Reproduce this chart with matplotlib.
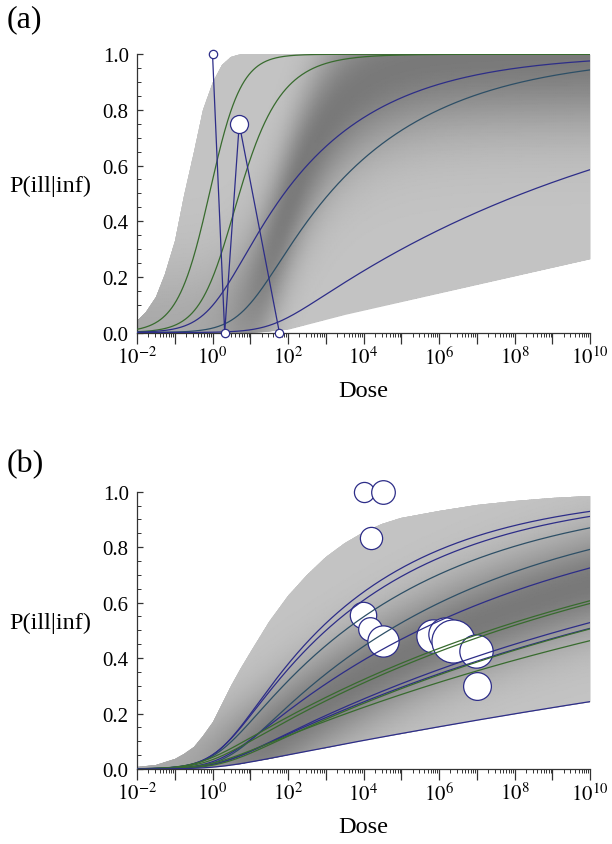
import numpy as np
import matplotlib.pyplot as plt
from matplotlib.ticker import LogLocator, FuncFormatter, MultipleLocator, NullFormatter

plt.rcParams['font.family'] = ['Liberation Serif', 'DejaVu Serif']
plt.rcParams['mathtext.fontset'] = 'stix'

BLUE = '#2d2d88'
GREEN = '#386b2e'
TEAL = '#2d4f66'

# dose-response curves  P(ill|inf) = 1 - (1 + eta*dose)^(-r)
a_r = [1.1, 0.55, 0.163, 0.1375, 0.0456]
a_eta = [1.06, 0.49, 0.87, 0.123, 0.024]
a_col = [GREEN, GREEN, BLUE, TEAL, BLUE]

b_r = [0.118, 0.1072, 0.09, 0.0714, 0.0574, 0.0394, 0.0389, 0.0333, 0.0312, 0.0314, 0.0268, 0.01228]
b_eta = [0.55, 0.63, 0.69, 0.355, 0.59, 1.95, 1.4, 0.62, 0.71, 0.54, 1.17, 0.69]
b_col = [BLUE, BLUE, TEAL, TEAL, BLUE, GREEN, GREEN, BLUE, BLUE, GREEN, GREEN, BLUE]

# observations
a_dose = [1.0, 2.1, 5.1, 59]
a_pill = [1.0, 0.0, 0.75, 0.0]
a_msize = [6, 6, 13, 6]

b_dose = [1e4, 3.2e4, 1.6e4, 9.5e3, 1.45e4, 3.2e4, 7e5, 1.45e6, 2.3e6, 9.5e6, 1e7]
b_pill = [1.0, 1.0, 0.833, 0.555, 0.505, 0.46, 0.48, 0.487, 0.463, 0.427, 0.30]
b_msize = [14.5, 17, 16, 19, 17, 22.5, 24, 24, 31, 24, 20]

# envelopes of the grey band (log10 dose, P)
a_env_u = [-2, -1.75, -1.5, -1.25, -1, -0.75, -0.5, -0.25, 0, 0.25, 0.5, 0.75, 1, 1.35, 2, 3.5, 10]
a_env_hi = [0.043, 0.074, 0.127, 0.21, 0.33, 0.49, 0.65, 0.80, 0.90, 0.96, 0.99, 1.0, 1.0, 1.0,
            1.0, 1.0, 1.0]
a_env_lo = [0, 0, 0, 0, 0, 0, 0, 0, 0, 0, 0, 0, 0, 0.003, 0.012, 0.065, 0.265]

b_env_u = [-2, -1.5, -1, -0.75, -0.5, -0.25, 0, 0.25, 0.5, 0.75, 1, 1.5, 2, 2.5, 3, 3.5, 4,
           4.5, 5, 6, 7, 8, 9, 10]
b_env_hi = [0.006, 0.015, 0.036, 0.055, 0.08, 0.12, 0.17, 0.235, 0.30, 0.365, 0.42, 0.53, 0.625,
            0.70, 0.765, 0.815, 0.855, 0.883, 0.905, 0.932, 0.952, 0.967, 0.978, 0.986]

# ridge of the band (r, eta, spread) and where its darkness fades in (log10 dose)
a_ridge = (0.365, 0.042, 0.18, 0.8)
b_ridge = (0.0508, 0.28, 0.13, 0.3)


def bp(d, r, eta):
    return 1 - (1 + eta * d) ** (-r)


def shade(ax, u_env, lo, hi, ridge):
    d_env = 10.0 ** np.asarray(u_env)
    env = ax.fill_between(d_env, lo, hi, color='#c3c3c3', lw=0, zorder=1)
    uu = np.linspace(-2, 10, 241)
    pp = np.linspace(0, 1, 201)
    U, P = np.meshgrid(uu, pp)
    pm = bp(10.0 ** U, ridge[0], ridge[1])
    amp = 0.35 + 0.65 / (1 + np.exp(-2.5 * (U - ridge[3])))
    dark = amp * np.exp(-0.5 * ((P - pm) / ridge[2]) ** 2)
    g = 0.765 - 0.29 * dark
    qm = ax.pcolormesh(10.0 ** U, P, g, cmap='gray', vmin=0, vmax=1,
                       shading='gouraud', zorder=2)
    qm.set_clip_path(env.get_paths()[0], ax.transData)


def style(ax):
    ax.set_xscale('log')
    ax.set_xlim(1e-2, 1e10)
    ax.set_ylim(0, 1)
    for s in ['top', 'right']:
        ax.spines[s].set_visible(False)
    for s in ['left', 'bottom']:
        ax.spines[s].set_color('#333333')
        ax.spines[s].set_linewidth(0.9)
    ax.xaxis.set_major_locator(LogLocator(base=10, numticks=20))
    ax.xaxis.set_minor_locator(LogLocator(base=10, subs=np.arange(2, 10), numticks=20))
    ax.xaxis.set_major_formatter(FuncFormatter(
        lambda v, p: r'$10^{%d}$' % round(np.log10(v)) if round(np.log10(v)) % 2 == 0 else ''))
    ax.xaxis.set_minor_formatter(NullFormatter())
    ax.yaxis.set_major_locator(MultipleLocator(0.2))
    ax.yaxis.set_minor_locator(MultipleLocator(0.05))
    ax.yaxis.set_major_formatter(FuncFormatter(lambda v, p: '%.1f' % v))
    ax.tick_params(axis='x', which='major', direction='out', length=8, width=0.9,
                   color='#333333', labelsize=15, pad=2)
    ax.tick_params(axis='x', which='minor', direction='out', length=3, width=0.7, color='#333333')
    ax.tick_params(axis='y', which='major', direction='in', length=4, width=0.9,
                   color='#333333', labelsize=15, pad=6)
    ax.tick_params(axis='y', which='minor', direction='in', length=3, width=0.7, color='#333333')
    ax.text(-0.102, 0.53, 'P(ill|inf)', transform=ax.transAxes, ha='right', va='center', fontsize=17.5)
    ax.text(0.5, -0.228, 'Dose', transform=ax.transAxes, ha='center', va='baseline', fontsize=17.5)


fig = plt.figure(figsize=(6.12, 8.45), dpi=100)
ax1 = fig.add_axes([0.2239, 0.6053, 0.7402, 0.3293])
ax2 = fig.add_axes([0.2239, 0.0888, 0.7402, 0.3281])

dd = np.logspace(-2, 10, 600)

# panel (a): markers sit on top of the curves
style(ax1)
shade(ax1, a_env_u, a_env_lo, a_env_hi, a_ridge)
for r, eta, c in zip(a_r, a_eta, a_col):
    ax1.plot(dd, bp(dd, r, eta), color=c, lw=0.9, zorder=3)
ax1.plot(a_dose, a_pill, color=BLUE, lw=0.9, zorder=4, clip_on=False)
for x, y, s in zip(a_dose, a_pill, a_msize):
    ax1.plot(x, y, 'o', ms=s, mfc='white', mec=BLUE, mew=0.9, zorder=5, clip_on=False)

# panel (b): curves drawn over the circles
style(ax2)
b_env_lo = bp(10.0 ** np.asarray(b_env_u), b_r[-1], b_eta[-1])
shade(ax2, b_env_u, b_env_lo, b_env_hi, b_ridge)
for x, y, s in zip(b_dose, b_pill, b_msize):
    ax2.plot(x, y, 'o', ms=s, mfc='white', mec=BLUE, mew=0.9, zorder=3, clip_on=False)
for r, eta, c in zip(b_r, b_eta, b_col):
    ax2.plot(dd, bp(dd, r, eta), color=c, lw=0.9, zorder=4)

fig.text(7 / 612, 1 - 27 / 845, '(a)', fontsize=23, va='baseline', ha='left')
fig.text(7 / 612, 1 - 472 / 845, '(b)', fontsize=23, va='baseline', ha='left')

fig.savefig('out.png', dpi=100)
